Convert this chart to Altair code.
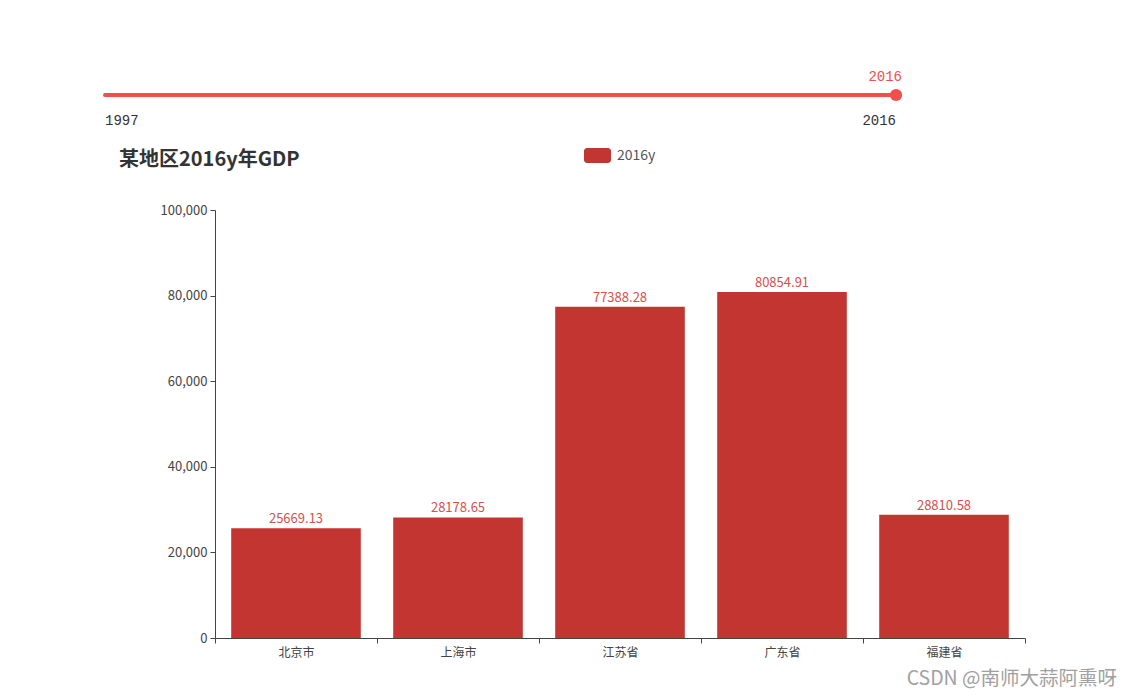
import altair as alt
import pandas as pd

regions = ["北京市", "上海市", "江苏省", "广东省", "福建省"]
gdp = [25669.13, 28178.65, 77388.28, 80854.91, 28810.58]
y_ticks = [0, 20000, 40000, 60000, 80000, 100000]
year_start = "1997"
year_end = "2016"
series_name = "2016y"
title_text = "某地区2016y年GDP"
watermark = "CSDN @南师大蒜阿熏呀"

df = pd.DataFrame({"region": regions, "gdp": gdp})
one = pd.DataFrame({"a": [0]})

RED = "#c23531"
FONT = "Noto Sans CJK SC"
AXC = "#444"

x_enc = alt.X("region:N", sort=regions, title=None,
              scale=alt.Scale(paddingInner=0, paddingOuter=0),
              axis=alt.Axis(labelAngle=0, tickBand="extent", labelFont=FONT,
                            labelFontSize=12, labelColor=AXC, domainColor=AXC,
                            tickColor=AXC, tickSize=5, labelPadding=4))
y_enc = alt.Y("gdp:Q", title=None,
              scale=alt.Scale(domain=[0, 100000], nice=False),
              axis=alt.Axis(values=y_ticks, format=",.0f",
                            grid=False, labelFont=FONT, labelFontSize=13,
                            labelColor=AXC, domainColor=AXC, tickColor=AXC,
                            tickSize=5, labelPadding=3))

base = alt.Chart(df)

bars = base.mark_bar(color=RED, width=alt.RelativeBandSize(0.8)).encode(x=x_enc, y=y_enc)

labels = base.mark_text(color="#d6514d", font=FONT, fontSize=13, dy=-9, baseline="middle").encode(
    x=x_enc, y=y_enc,
    text=alt.Text("gdp:Q", format=".2f"),
)

title = alt.Chart(one).mark_text(text=title_text, font=FONT, fontSize=20, fontWeight="bold",
                                 color="#333", align="left", baseline="middle").encode(
    x=alt.value(-96), y=alt.value(-50))

legend_rect = alt.Chart(one).mark_rect(color=RED, cornerRadius=3).encode(
    x=alt.value(369), x2=alt.value(396), y=alt.value(-62), y2=alt.value(-47))
legend_text = alt.Chart(one).mark_text(text=series_name, font=FONT, fontSize=14,
                                       color="#555", align="left", baseline="middle").encode(
    x=alt.value(402), y=alt.value(-54))

TL = "#f34e4e"
MONO = "Liberation Mono"
tl_line = alt.Chart(one).mark_rule(color=TL, strokeWidth=4, strokeCap="round").encode(
    x=alt.value(-110), x2=alt.value(681), y=alt.value(-115))
tl_dot = alt.Chart(one).mark_point(filled=True, color=TL, size=150, opacity=1).encode(
    x=alt.value(681), y=alt.value(-115))
tl_start = alt.Chart(one).mark_text(text=year_start, font=MONO, fontSize=14,
                                    color="#333", align="left", baseline="middle").encode(
    x=alt.value(-110), y=alt.value(-89))
tl_end = alt.Chart(one).mark_text(text=year_end, font=MONO, fontSize=14,
                                  color="#333", align="right", baseline="middle").encode(
    x=alt.value(681), y=alt.value(-89))
tl_cur = alt.Chart(one).mark_text(text=year_end, font=MONO, fontSize=14,
                                  color=TL, align="right", baseline="middle").encode(
    x=alt.value(687), y=alt.value(-133))

wm = alt.Chart(one).mark_text(text=watermark, font=FONT, fontSize=19.5, color="#a0a0a0",
                              align="right", baseline="middle").encode(
    x=alt.value(902), y=alt.value(469))

chart = alt.layer(bars, labels, title, legend_rect, legend_text,
                  tl_line, tl_dot, tl_start, tl_end, tl_cur, wm).properties(
    width=810, height=428,
    autosize=alt.AutoSizeParams(type="none"),
    padding={"left": 215, "top": 210, "right": 107, "bottom": 61},
    background="white",
).configure_view(strokeWidth=0, stroke=None)

chart.save("out.html", embed_options={"renderer": "svg", "actions": False})
